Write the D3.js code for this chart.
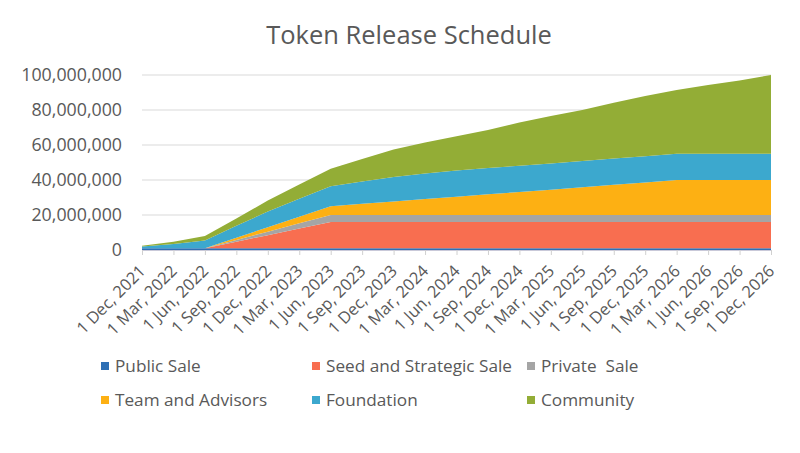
<!DOCTYPE html>
<html><head><meta charset="utf-8">
<script src="https://cdn.jsdelivr.net/npm/d3@7"></script>
<style>
html,body{margin:0;padding:0;background:#fff;}
svg{display:block;font-family:"Open Sans",sans-serif;}
</style></head>
<body>
<svg id="chart" width="800" height="453"></svg>
<script>
// ---- data (tokens released, cumulative) ----
const categories = ["1 Dec, 2021","1 Mar, 2022","1 Jun, 2022","1 Sep, 2022","1 Dec, 2022","1 Mar, 2023","1 Jun, 2023","1 Sep, 2023","1 Dec, 2023","1 Mar, 2024","1 Jun, 2024","1 Sep, 2024","1 Dec, 2024","1 Mar, 2025","1 Jun, 2025","1 Sep, 2025","1 Dec, 2025","1 Mar, 2026","1 Jun, 2026","1 Sep, 2026","1 Dec, 2026"];
const seriesNames = ["Public Sale","Seed and Strategic Sale","Private  Sale","Team and Advisors","Foundation","Community"];
const publicSale = [1000000,1000000,1000000,1000000,1000000,1000000,1000000,1000000,1000000,1000000,1000000,1000000,1000000,1000000,1000000,1000000,1000000,1000000,1000000,1000000,1000000];
const seedStrategic = [0,0,0,3750000,7500000,11250000,15000000,15000000,15000000,15000000,15000000,15000000,15000000,15000000,15000000,15000000,15000000,15000000,15000000,15000000,15000000];
const privateSale = [0,0,0,1000000,2000000,3000000,4000000,4000000,4000000,4000000,4000000,4000000,4000000,4000000,4000000,4000000,4000000,4000000,4000000,4000000,4000000];
const teamAdvisors = [0,0,0,1250000,2500000,3750000,5000000,6400000,7700000,9100000,10500000,11800000,13200000,14500000,15900000,17300000,18600000,20000000,20000000,20000000,20000000];
const foundation = [1000000,2500000,4500000,6800000,9000000,10300000,11400000,12800000,14000000,14600000,15000000,15000000,15000000,15000000,15000000,15000000,15000000,15000000,15000000,15000000,15000000];
const community = [500000,1200000,2500000,4200000,6300000,8200000,10100000,12800000,15800000,17800000,19500000,21800000,24600000,27100000,29100000,31900000,34400000,36400000,39300000,41800000,45000000];
const yTicks = [0,20000000,40000000,60000000,80000000,100000000];
const colors = ["#2E6FB4","#F86E50","#A5A5A5","#FDB013","#3CA8CE","#93AD36"];

const seriesValues = [publicSale,seedStrategic,privateSale,teamAdvisors,foundation,community];
const table = categories.map((c,i)=>{
  const row = {cat:c};
  seriesNames.forEach((n,k)=>row[n]=seriesValues[k][i]);
  return row;
});

const svg = d3.select("#chart");
const x = d3.scalePoint().domain(categories).range([142,771]);
const y = d3.scaleLinear().domain([0,100000000]).range([250,75]);
const textColor = "#595959";

// title
svg.append("text").attr("x",409).attr("y",44).attr("text-anchor","middle")
  .attr("font-size",25.5).attr("fill",textColor).text("Token Release Schedule");

// gridlines
svg.append("g").selectAll("line").data(yTicks).join("line")
  .attr("x1",142).attr("x2",771).attr("y1",d=>y(d)).attr("y2",d=>y(d))
  .attr("stroke","#D9D9D9").attr("stroke-width",1);

// stacked areas
const stack = d3.stack().keys(seriesNames);
const layers = stack(table);
const area = d3.area().x(d=>x(d.data.cat)).y0(d=>y(d[0])).y1(d=>y(d[1]));
svg.append("g").selectAll("path").data(layers).join("path")
  .attr("d",area).attr("fill",(d,i)=>colors[i]);

// y axis
const yAxis = d3.axisLeft(y).tickValues(yTicks).tickFormat(d3.format(",")).tickSize(0).tickPadding(20);
const gy = svg.append("g").attr("transform","translate(142,0)").call(yAxis);
gy.select(".domain").remove();
gy.selectAll("text").attr("font-size",17.8).attr("fill",textColor).attr("font-family","Open Sans");

// x axis
const xAxis = d3.axisBottom(x).tickSize(5).tickSizeOuter(0);
const gx = svg.append("g").attr("transform","translate(0,250)").call(xAxis);
gx.select(".domain").attr("stroke","#C9C9D9");
gx.selectAll(".tick line").attr("stroke","#D0D0D0");
gx.selectAll("text").attr("font-size",16.5).attr("fill",textColor).attr("font-family","Open Sans")
  .attr("text-anchor","end").attr("x",0).attr("y",0).attr("dy",0)
  .attr("transform","translate(4,22) rotate(-45)");

// legend
const legendPos = [[101,366],[312,366],[527,366],[101,400],[312,400],[527,400]];
const lg = svg.append("g").selectAll("g").data(seriesNames).join("g")
  .attr("transform",(d,i)=>`translate(${legendPos[i][0]},${legendPos[i][1]})`);
lg.append("rect").attr("x",0).attr("y",-4).attr("width",8).attr("height",8).attr("fill",(d,i)=>colors[i]);
lg.append("text").attr("x",14).attr("y",0).attr("dy","0.35em").attr("font-size",17.2)
  .attr("fill",textColor).attr("xml:space","preserve").style("white-space","pre").text(d=>d);
</script>
</body></html>
